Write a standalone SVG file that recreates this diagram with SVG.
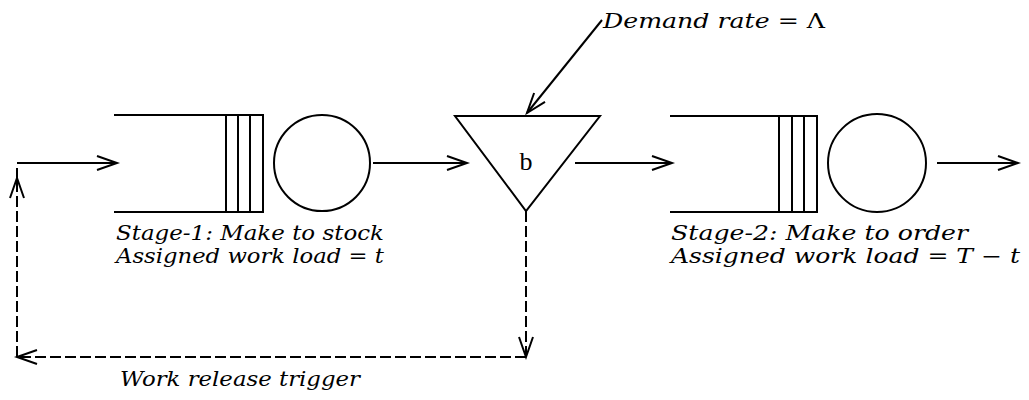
<svg xmlns="http://www.w3.org/2000/svg" width="1029" height="400" viewBox="0 0 1029 400">
<style>
.ln{fill:none;stroke:#000;stroke-width:2}
.dash{fill:none;stroke:#000;stroke-width:2;stroke-dasharray:11,4}
.t{font-family:'DejaVu Serif','Liberation Serif',serif;font-style:italic;font-size:20px;fill:#000}
.u{font-family:'Liberation Serif',serif;font-size:26px;fill:#000}
</style>
<defs>
<marker id="ah" markerUnits="userSpaceOnUse" markerWidth="30" markerHeight="20" viewBox="-22 -10 24 20" refX="0" refY="0" orient="auto">
<path d="M-20,-7 L0,0 L-20,7" fill="none" stroke="#000" stroke-width="2"/>
</marker>
</defs>
<rect width="1029" height="400" fill="#fff"/>
<g id="stage1">
<path class="ln" d="M114,115 H263 V212 H114 M226,115 V212 M238,115 V212 M250,115 V212"/>
<circle class="ln" cx="322" cy="163" r="48"/>
<text class="t" x="116" y="240" textLength="268" lengthAdjust="spacingAndGlyphs">Stage-1: Make to stock</text>
<text class="t" x="116" y="263" textLength="268" lengthAdjust="spacingAndGlyphs">Assigned work load = t</text>
</g>
<g id="buffer">
<path class="ln" d="M455,116 H600 L526,211 Z"/>
<text class="u" x="526" y="170" text-anchor="middle">b</text>
</g>
<g id="stage2">
<path class="ln" d="M670,116 H817 V212 H670 M779,116 V212 M792,116 V212 M804,116 V212"/>
<circle class="ln" cx="877" cy="163" r="49"/>
<text class="t" x="671" y="240" textLength="297" lengthAdjust="spacingAndGlyphs">Stage-2: Make to order</text>
<text class="t" x="671" y="263" textLength="349" lengthAdjust="spacingAndGlyphs">Assigned work load = T − t</text>
</g>
<g id="demand">
<text class="t" x="603" y="28" font-size="23" textLength="222" lengthAdjust="spacingAndGlyphs">Demand rate = <tspan font-style="normal">Λ</tspan></text>
</g>
<g id="trigger-label">
<text class="t" x="120" y="386" font-size="23" textLength="240" lengthAdjust="spacingAndGlyphs">Work release trigger</text>
</g>
<g id="connectors">
<line class="ln" x1="17" y1="163" x2="117" y2="163" marker-end="url(#ah)"/>
<line class="ln" x1="373" y1="163" x2="467" y2="163" marker-end="url(#ah)"/>
<line class="ln" x1="575" y1="163" x2="672" y2="163" marker-end="url(#ah)"/>
<line class="ln" x1="937" y1="163" x2="1018" y2="163" marker-end="url(#ah)"/>
<line class="ln" x1="602" y1="20" x2="527" y2="113" marker-end="url(#ah)"/>
<line class="dash" x1="526" y1="211" x2="526" y2="357" marker-end="url(#ah)"/>
<line class="dash" x1="526" y1="357" x2="17" y2="357" marker-end="url(#ah)"/>
<line class="dash" x1="17" y1="357" x2="17" y2="178" marker-end="url(#ah)"/>
<line class="dash" x1="17" y1="178" x2="17" y2="168"/>
</g>
</svg>
